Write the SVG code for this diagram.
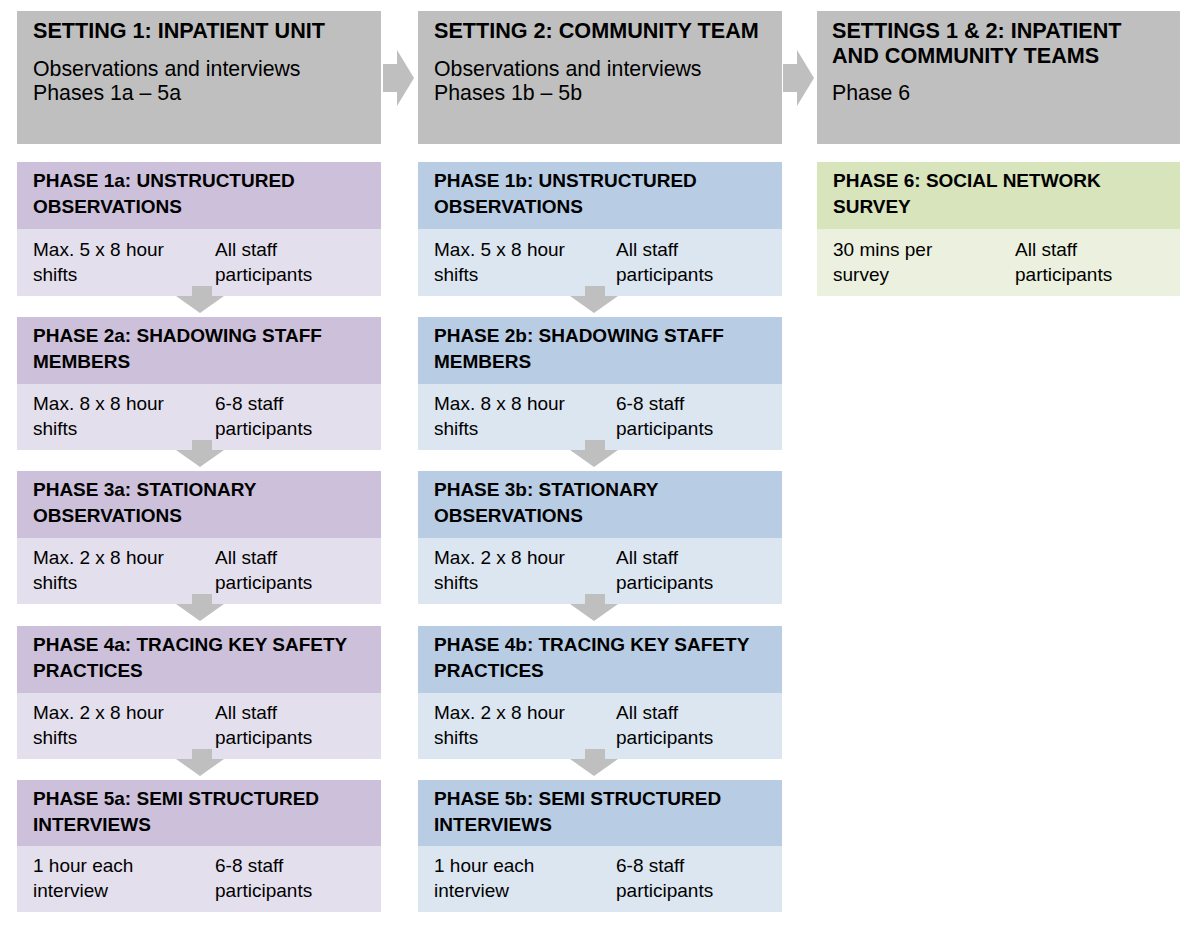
<svg xmlns="http://www.w3.org/2000/svg" width="1200" height="927" viewBox="0 0 1200 927">
<style>
text{font-family:"Liberation Sans",Arial,sans-serif;fill:#000}
.t{font-size:21.3px}
.tb{font-size:21.6px;font-weight:bold}
.p{font-size:19px}
.pb{font-size:19px;font-weight:bold}
.gray{fill:#bfbfbf}
.ph1{fill:#ccc0da}.pb1{fill:#e4dfec}
.bh{fill:#b8cce4}.bb{fill:#dce6f1}
.gh{fill:#d7e4bc}.gb{fill:#ebf1de}
.arr{fill:#bfbfbf}
</style>
<rect width="1200" height="927" fill="#ffffff"/>

<g id="setting1">
<rect class="gray" x="17" y="11" width="364" height="133"/>
<text class="tb" x="33" y="38">SETTING 1: INPATIENT UNIT</text>
<text class="t" x="33" y="76">Observations and interviews</text>
<text class="t" x="33" y="100">Phases 1a – 5a</text>
</g>
<g id="setting2">
<rect class="gray" x="418" y="11" width="364" height="133"/>
<text class="tb" x="434" y="38">SETTING 2: COMMUNITY TEAM</text>
<text class="t" x="434" y="76">Observations and interviews</text>
<text class="t" x="434" y="100">Phases 1b – 5b</text>
</g>
<g id="setting3">
<rect class="gray" x="817" y="11" width="363" height="133"/>
<text class="tb" x="832" y="38">SETTINGS 1 &amp; 2: INPATIENT</text>
<text class="tb" x="832" y="63">AND COMMUNITY TEAMS</text>
<text class="t" x="832" y="100">Phase 6</text>
</g>

<!-- Column 1 -->
<g id="phase1a">
<rect class="ph1" x="17" y="162" width="364" height="67"/>
<rect class="pb1" x="17" y="229" width="364" height="67"/>
<text class="pb" x="33" y="187">PHASE 1a: UNSTRUCTURED</text>
<text class="pb" x="33" y="213">OBSERVATIONS</text>
<text class="p" x="33" y="255.5">Max. 5 x 8 hour</text>
<text class="p" x="33" y="280.5">shifts</text>
<text class="p" x="215" y="255.5">All staff</text>
<text class="p" x="215" y="280.5">participants</text>
</g>
<g id="phase2a">
<rect class="ph1" x="17" y="317" width="364" height="67"/>
<rect class="pb1" x="17" y="384" width="364" height="66"/>
<text class="pb" x="33" y="342">PHASE 2a: SHADOWING STAFF</text>
<text class="pb" x="33" y="368">MEMBERS</text>
<text class="p" x="33" y="410">Max. 8 x 8 hour</text>
<text class="p" x="33" y="435">shifts</text>
<text class="p" x="215" y="410">6-8 staff</text>
<text class="p" x="215" y="435">participants</text>
</g>
<g id="phase3a">
<rect class="ph1" x="17" y="471" width="364" height="67"/>
<rect class="pb1" x="17" y="538" width="364" height="66"/>
<text class="pb" x="33" y="496">PHASE 3a: STATIONARY</text>
<text class="pb" x="33" y="522">OBSERVATIONS</text>
<text class="p" x="33" y="564">Max. 2 x 8 hour</text>
<text class="p" x="33" y="589">shifts</text>
<text class="p" x="215" y="564">All staff</text>
<text class="p" x="215" y="589">participants</text>
</g>
<g id="phase4a">
<rect class="ph1" x="17" y="626" width="364" height="67"/>
<rect class="pb1" x="17" y="693" width="364" height="66"/>
<text class="pb" x="33" y="651">PHASE 4a: TRACING KEY SAFETY</text>
<text class="pb" x="33" y="677">PRACTICES</text>
<text class="p" x="33" y="719">Max. 2 x 8 hour</text>
<text class="p" x="33" y="744">shifts</text>
<text class="p" x="215" y="719">All staff</text>
<text class="p" x="215" y="744">participants</text>
</g>
<g id="phase5a">
<rect class="ph1" x="17" y="780" width="364" height="66"/>
<rect class="pb1" x="17" y="846" width="364" height="66"/>
<text class="pb" x="33" y="805">PHASE 5a: SEMI STRUCTURED</text>
<text class="pb" x="33" y="831">INTERVIEWS</text>
<text class="p" x="33" y="872">1 hour each</text>
<text class="p" x="33" y="897">interview</text>
<text class="p" x="215" y="872">6-8 staff</text>
<text class="p" x="215" y="897">participants</text>
</g>

<!-- Column 2 -->
<g id="phase1b">
<rect class="bh" x="418" y="162" width="364" height="67"/>
<rect class="bb" x="418" y="229" width="364" height="67"/>
<text class="pb" x="434" y="187">PHASE 1b: UNSTRUCTURED</text>
<text class="pb" x="434" y="213">OBSERVATIONS</text>
<text class="p" x="434" y="255.5">Max. 5 x 8 hour</text>
<text class="p" x="434" y="280.5">shifts</text>
<text class="p" x="616" y="255.5">All staff</text>
<text class="p" x="616" y="280.5">participants</text>
</g>
<g id="phase2b">
<rect class="bh" x="418" y="317" width="364" height="67"/>
<rect class="bb" x="418" y="384" width="364" height="66"/>
<text class="pb" x="434" y="342">PHASE 2b: SHADOWING STAFF</text>
<text class="pb" x="434" y="368">MEMBERS</text>
<text class="p" x="434" y="410">Max. 8 x 8 hour</text>
<text class="p" x="434" y="435">shifts</text>
<text class="p" x="616" y="410">6-8 staff</text>
<text class="p" x="616" y="435">participants</text>
</g>
<g id="phase3b">
<rect class="bh" x="418" y="471" width="364" height="67"/>
<rect class="bb" x="418" y="538" width="364" height="66"/>
<text class="pb" x="434" y="496">PHASE 3b: STATIONARY</text>
<text class="pb" x="434" y="522">OBSERVATIONS</text>
<text class="p" x="434" y="564">Max. 2 x 8 hour</text>
<text class="p" x="434" y="589">shifts</text>
<text class="p" x="616" y="564">All staff</text>
<text class="p" x="616" y="589">participants</text>
</g>
<g id="phase4b">
<rect class="bh" x="418" y="626" width="364" height="67"/>
<rect class="bb" x="418" y="693" width="364" height="66"/>
<text class="pb" x="434" y="651">PHASE 4b: TRACING KEY SAFETY</text>
<text class="pb" x="434" y="677">PRACTICES</text>
<text class="p" x="434" y="719">Max. 2 x 8 hour</text>
<text class="p" x="434" y="744">shifts</text>
<text class="p" x="616" y="719">All staff</text>
<text class="p" x="616" y="744">participants</text>
</g>
<g id="phase5b">
<rect class="bh" x="418" y="780" width="364" height="66"/>
<rect class="bb" x="418" y="846" width="364" height="66"/>
<text class="pb" x="434" y="805">PHASE 5b: SEMI STRUCTURED</text>
<text class="pb" x="434" y="831">INTERVIEWS</text>
<text class="p" x="434" y="872">1 hour each</text>
<text class="p" x="434" y="897">interview</text>
<text class="p" x="616" y="872">6-8 staff</text>
<text class="p" x="616" y="897">participants</text>
</g>

<!-- Column 3 -->
<g id="phase6">
<rect class="gh" x="817" y="162" width="363" height="67"/>
<rect class="gb" x="817" y="229" width="363" height="67"/>
<text class="pb" x="833" y="187">PHASE 6: SOCIAL NETWORK</text>
<text class="pb" x="833" y="213">SURVEY</text>
<text class="p" x="833" y="255.5">30 mins per</text>
<text class="p" x="833" y="280.5">survey</text>
<text class="p" x="1015" y="255.5">All staff</text>
<text class="p" x="1015" y="280.5">participants</text>
</g>

<g id="connectors" class="arr">
<polygon points="383,64 397,64 397,50 414,78 397,106 397,92 383,92"/>
<polygon points="783,64 797,64 797,50 814,78 797,106 797,92 783,92"/>
<polygon points="192,286 212,286 212,296 224,296 200,313 176,296 192,296"/>
<polygon points="192,440 212,440 212,450 224,450 200,467 176,450 192,450"/>
<polygon points="192,594 212,594 212,604 224,604 200,621 176,604 192,604"/>
<polygon points="192,749 212,749 212,759 224,759 200,776 176,759 192,759"/>
<polygon points="585,286 605,286 605,296 618,296 594,313 570,296 585,296"/>
<polygon points="585,440 605,440 605,450 618,450 594,467 570,450 585,450"/>
<polygon points="585,594 605,594 605,604 618,604 594,621 570,604 585,604"/>
<polygon points="585,749 605,749 605,759 618,759 594,776 570,759 585,759"/>
</g>
</svg>
